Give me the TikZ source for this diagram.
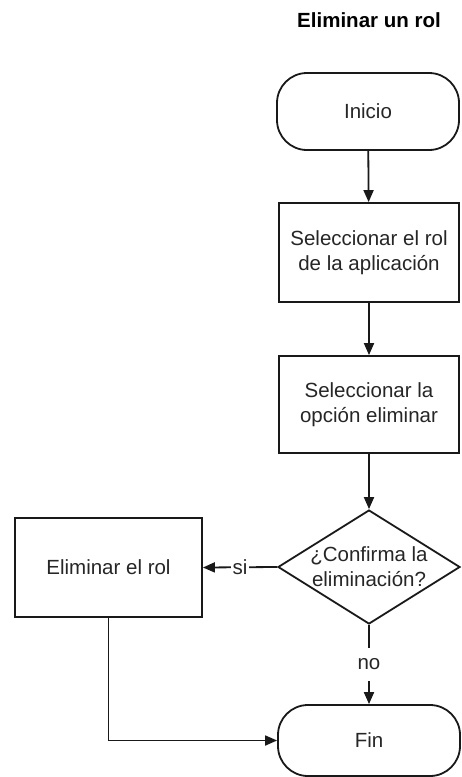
\documentclass[tikz,border=0pt]{standalone}
\usepackage{fontspec}
\setmainfont{Liberation Sans}
\usetikzlibrary{arrows.meta,shapes.geometric}
\begin{document}
\begin{tikzpicture}[x=1pt,y=-1pt,
  every node/.style={font=\fontsize{20.5}{25}\selectfont, text=black!85},
  flow/.style={draw=black!90, line width=1.8pt},
  term/.style={flow, rectangle, rounded corners=30pt, minimum width=182pt, inner sep=0pt},
  proc/.style={flow, rectangle, align=center, inner sep=0pt},
  decision/.style={flow, diamond, minimum width=182pt, minimum height=114pt, inner sep=0pt},
  link/.style={draw=black!90, line width=1.8pt, -{Triangle[length=12pt,width=10pt]}},
  tag/.style={fill=white, inner xsep=1.5pt, inner ysep=1.5pt}]
\useasboundingbox (0,0) rectangle (461,777);

% heading
\node[anchor=base, font=\fontsize{20.5}{25}\selectfont\bfseries, text=black] (title) at (369,27) {Eliminar un rol};

% main column
\node[term, minimum height=77pt] (inicio) at (368,111.5) {Inicio};
\node[proc, minimum width=180pt, minimum height=99pt] (sel1) at (369,252.5) {Seleccionar el rol\\de la aplicación};
\node[proc, minimum width=180pt, minimum height=97pt] (sel2) at (369,404.5) {Seleccionar la\\opción eliminar};
\node[decision, label={[align=center]center:{¿Confirma la\\eliminación?}}] (conf) at (369,567) {};
\node[term, minimum height=71pt] (fin) at (369,740.5) {Fin};

% side branch
\node[proc, minimum width=187pt, minimum height=99pt] (elim) at (108.5,567.5) {Eliminar el rol};

% connectors
\draw[link] (inicio) -- (sel1);
\draw[link] (sel1) -- (sel2);
\draw[link] (sel2) -- (conf);
\draw[link] (conf.west) -- node[tag] {si} (elim.east);
\draw[link] (conf.south) -- node[tag, inner ysep=11pt] {no} (fin.north);
\draw[link] (elim.south) |- (fin.west);
\end{tikzpicture}
\end{document}
